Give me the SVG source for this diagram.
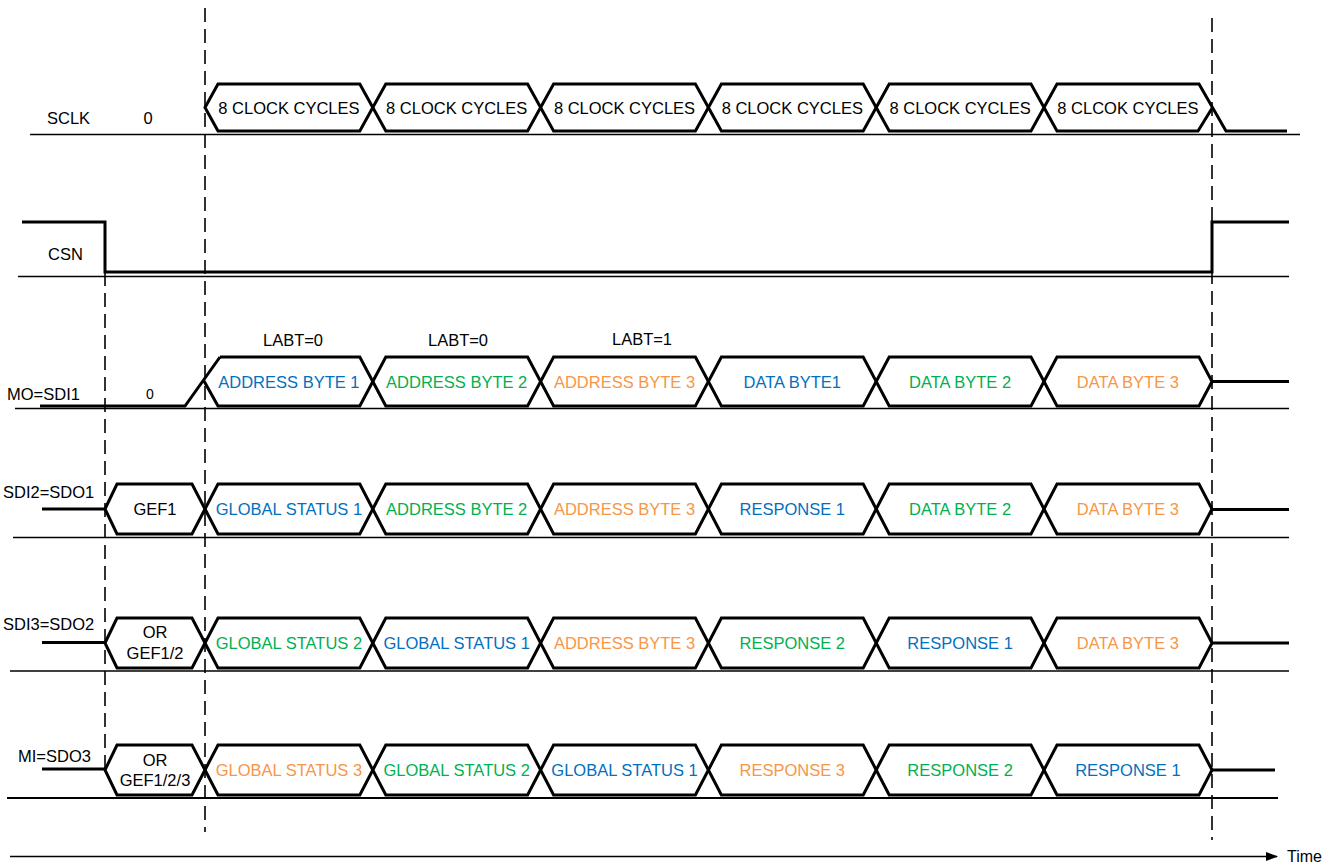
<svg xmlns="http://www.w3.org/2000/svg" width="1339" height="866" viewBox="0 0 1339 866">
<style>
.bus{fill:none;stroke:#000;stroke-width:3;stroke-linejoin:miter}
.thick{fill:none;stroke:#000;stroke-width:3}
.base{fill:none;stroke:#000;stroke-width:1.6}
.dash{fill:none;stroke:#000;stroke-width:1.6;stroke-dasharray:14 7}
text{font-family:"Liberation Sans",Arial,sans-serif;font-size:16.5px;fill:#000}
.c{text-anchor:middle}
.b{fill:#0070c0}
.g{fill:#00b050}
.o{fill:#f79646}
</style>
<defs>
<marker id="arr" markerWidth="12" markerHeight="10" refX="11" refY="5" orient="auto" markerUnits="userSpaceOnUse">
<path d="M0,0.5 L12,5 L0,9.5 Z" fill="#000"/>
</marker>
</defs>

<g id="connectors">
<line class="dash" x1="205" y1="8" x2="205" y2="832"/>
<line class="dash" x1="105" y1="272" x2="105" y2="768"/>
<line class="dash" x1="1212" y1="18" x2="1212" y2="840"/>
<line x1="10" y1="856.5" x2="1277" y2="856.5" stroke="#000" stroke-width="1.6" marker-end="url(#arr)"/>
</g>

<g id="SCLK">
<line class="base" x1="30" y1="134.5" x2="1300" y2="134.5"/>
<text x="47" y="124">SCLK</text>
<text x="148" y="124" class="c">0</text>
<path class="bus" d="M205,107.5 L218,84 L359.8,84 L372.8,107.5 L359.8,131 L218,131 Z"/>
<path class="bus" d="M372.8,107.5 L385.8,84 L527.6,84 L540.6,107.5 L527.6,131 L385.8,131 Z"/>
<path class="bus" d="M540.6,107.5 L553.6,84 L695.4,84 L708.4,107.5 L695.4,131 L553.6,131 Z"/>
<path class="bus" d="M708.4,107.5 L721.4,84 L863.2,84 L876.2,107.5 L863.2,131 L721.4,131 Z"/>
<path class="bus" d="M876.2,107.5 L889.2,84 L1031,84 L1044,107.5 L1031,131 L889.2,131 Z"/>
<path class="bus" d="M1044,107.5 L1057,84 L1199,84 L1226,131 L1287,131 M1044,107.5 L1057,131 L1198,131 L1212.5,107.5"/>
<text x="288.9" y="113.5" class="c">8 CLOCK CYCLES</text>
<text x="456.7" y="113.5" class="c">8 CLOCK CYCLES</text>
<text x="624.5" y="113.5" class="c">8 CLOCK CYCLES</text>
<text x="792.3" y="113.5" class="c">8 CLOCK CYCLES</text>
<text x="960.1" y="113.5" class="c">8 CLOCK CYCLES</text>
<text x="1127.9" y="113.5" class="c">8 CLCOK CYCLES</text>
</g>

<g id="CSN">
<line class="base" x1="18" y1="276.5" x2="1289" y2="276.5"/>
<text x="48" y="260">CSN</text>
<path class="thick" d="M22,222 L105,222 L105,272 L1212,272 L1212,222 L1289,222"/>
</g>

<g id="MO">
<line class="base" x1="15" y1="408.5" x2="1289" y2="408.5"/>
<text x="7" y="399.5">MO=SDI1</text>
<text x="150" y="399" class="c" style="font-size:14px">0</text>
<text x="293" y="346" class="c">LABT=0</text>
<text x="458" y="346" class="c">LABT=0</text>
<text x="642" y="345" class="c">LABT=1</text>
<path class="thick" d="M40,406 L185,406 L220,357"/>
<path class="bus" d="M204,381 L218,406 L359.8,406 L372.8,381.5 L359.8,357 L220,357"/>
<path class="bus" d="M372.8,381.5 L385.8,357 L527.6,357 L540.6,381.5 L527.6,406 L385.8,406 Z"/>
<path class="bus" d="M540.6,381.5 L553.6,357 L695.4,357 L708.4,381.5 L695.4,406 L553.6,406 Z"/>
<path class="bus" d="M708.4,381.5 L721.4,357 L863.2,357 L876.2,381.5 L863.2,406 L721.4,406 Z"/>
<path class="bus" d="M876.2,381.5 L889.2,357 L1031,357 L1044,381.5 L1031,406 L889.2,406 Z"/>
<path class="bus" d="M1044,381.5 L1057,357 L1199,357 L1212,381.5 L1199,406 L1057,406 Z"/>
<path class="thick" d="M1212,381.5 L1289,381.5"/>
<text x="288.9" y="388" class="c b">ADDRESS BYTE 1</text>
<text x="456.7" y="388" class="c g">ADDRESS BYTE 2</text>
<text x="624.5" y="388" class="c o">ADDRESS BYTE 3</text>
<text x="792.3" y="388" class="c b">DATA BYTE1</text>
<text x="960.1" y="388" class="c g">DATA BYTE 2</text>
<text x="1127.9" y="388" class="c o">DATA BYTE 3</text>
</g>

<g id="SDI2">
<line class="base" x1="13" y1="537.5" x2="1289" y2="537.5"/>
<text x="3" y="498">SDI2=SDO1</text>
<path class="thick" d="M42,509 L105,509"/>
<path class="bus" d="M105,509 L117,484 L192,484 L205,509 L192,534 L117,534 Z"/>
<path class="bus" d="M205,509 L218,484 L359.8,484 L372.8,509 L359.8,534 L218,534 Z"/>
<path class="bus" d="M372.8,509 L385.8,484 L527.6,484 L540.6,509 L527.6,534 L385.8,534 Z"/>
<path class="bus" d="M540.6,509 L553.6,484 L695.4,484 L708.4,509 L695.4,534 L553.6,534 Z"/>
<path class="bus" d="M708.4,509 L721.4,484 L863.2,484 L876.2,509 L863.2,534 L721.4,534 Z"/>
<path class="bus" d="M876.2,509 L889.2,484 L1031,484 L1044,509 L1031,534 L889.2,534 Z"/>
<path class="bus" d="M1044,509 L1057,484 L1199,484 L1212,509 L1199,534 L1057,534 Z"/>
<path class="thick" d="M1212,509.5 L1289,509.5"/>
<text x="155" y="515" class="c">GEF1</text>
<text x="288.9" y="515" class="c b">GLOBAL STATUS 1</text>
<text x="456.7" y="515" class="c g">ADDRESS BYTE 2</text>
<text x="624.5" y="515" class="c o">ADDRESS BYTE 3</text>
<text x="792.3" y="515" class="c b">RESPONSE 1</text>
<text x="960.1" y="515" class="c g">DATA BYTE 2</text>
<text x="1127.9" y="515" class="c o">DATA BYTE 3</text>
</g>

<g id="SDI3">
<line class="base" x1="10" y1="671" x2="1289" y2="671"/>
<text x="3" y="630">SDI3=SDO2</text>
<path class="thick" d="M42,642.5 L105,642.5"/>
<path class="bus" d="M105,643 L117,618 L192,618 L205,643 L192,668 L117,668 Z"/>
<path class="bus" d="M205,643 L218,618 L359.8,618 L372.8,643 L359.8,668 L218,668 Z"/>
<path class="bus" d="M372.8,643 L385.8,618 L527.6,618 L540.6,643 L527.6,668 L385.8,668 Z"/>
<path class="bus" d="M540.6,643 L553.6,618 L695.4,618 L708.4,643 L695.4,668 L553.6,668 Z"/>
<path class="bus" d="M708.4,643 L721.4,618 L863.2,618 L876.2,643 L863.2,668 L721.4,668 Z"/>
<path class="bus" d="M876.2,643 L889.2,618 L1031,618 L1044,643 L1031,668 L889.2,668 Z"/>
<path class="bus" d="M1044,643 L1057,618 L1199,618 L1212,643 L1199,668 L1057,668 Z"/>
<path class="thick" d="M1212,643 L1289,643"/>
<text x="155" y="638" class="c">OR</text>
<text x="155" y="659" class="c">GEF1/2</text>
<text x="288.9" y="649" class="c g">GLOBAL STATUS 2</text>
<text x="456.7" y="649" class="c b">GLOBAL STATUS 1</text>
<text x="624.5" y="649" class="c o">ADDRESS BYTE 3</text>
<text x="792.3" y="649" class="c g">RESPONSE 2</text>
<text x="960.1" y="649" class="c b">RESPONSE 1</text>
<text x="1127.9" y="649" class="c o">DATA BYTE 3</text>
</g>

<g id="MI">
<line class="base" x1="7" y1="798" x2="1278" y2="798" style="stroke-width:2"/>
<text x="18" y="762">MI=SDO3</text>
<path class="thick" d="M42,769 L105,769"/>
<path class="bus" d="M105,770 L117,745 L192,745 L205,770 L192,795 L117,795 Z"/>
<path class="bus" d="M205,770 L218,745 L359.8,745 L372.8,770 L359.8,795 L218,795 Z"/>
<path class="bus" d="M372.8,770 L385.8,745 L527.6,745 L540.6,770 L527.6,795 L385.8,795 Z"/>
<path class="bus" d="M540.6,770 L553.6,745 L695.4,745 L708.4,770 L695.4,795 L553.6,795 Z"/>
<path class="bus" d="M708.4,770 L721.4,745 L863.2,745 L876.2,770 L863.2,795 L721.4,795 Z"/>
<path class="bus" d="M876.2,770 L889.2,745 L1031,745 L1044,770 L1031,795 L889.2,795 Z"/>
<path class="bus" d="M1044,770 L1057,745 L1199,745 L1212,770 L1199,795 L1057,795 Z"/>
<path class="thick" d="M1212,770 L1275,770"/>
<text x="155" y="765.5" class="c">OR</text>
<text x="155" y="785.5" class="c">GEF1/2/3</text>
<text x="288.9" y="776" class="c o">GLOBAL STATUS 3</text>
<text x="456.7" y="776" class="c g">GLOBAL STATUS 2</text>
<text x="624.5" y="776" class="c b">GLOBAL STATUS 1</text>
<text x="792.3" y="776" class="c o">RESPONSE 3</text>
<text x="960.1" y="776" class="c g">RESPONSE 2</text>
<text x="1127.9" y="776" class="c b">RESPONSE 1</text>
</g>

<g id="time-label">
<text x="1287" y="862" style="font-size:16px">Time</text>
</g>
</svg>
